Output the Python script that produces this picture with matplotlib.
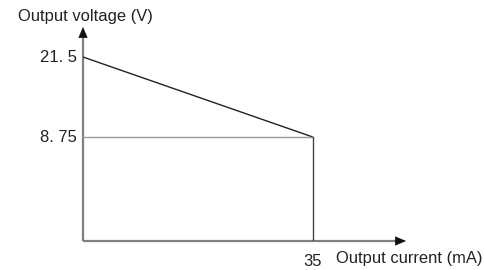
import matplotlib
matplotlib.use("Agg")
import matplotlib.pyplot as plt

# data
current = [0, 35]
voltage = [21.5, 8.75]
ytick_vals = [21.5, 8.75]
ytick_labels = ["21. 5", "8. 75"]
xtick_vals = [35]
xtick_labels = ["35"]

plt.rcParams['font.family'] = ['Liberation Sans', 'DejaVu Sans']

W, H = 484, 270
fig = plt.figure(figsize=(W/100, H/100), dpi=100)
# axes spanning pixel x 83..406, y 27..241
ax = fig.add_axes([83/W, (H-241)/H, (406-83)/W, (241-27)/H])
x0, x1 = 0, 49.2
ppu_y = (137-57)/(21.5-8.75)
ppu_x = (313-83)/35
y_base = 8.75 - (241-137)/ppu_y
y_top = 21.5 + (57-27)/ppu_y
ax.set_xlim(x0, x1)
ax.set_ylim(y_base, y_top)
ax.axis('off')

axc = '#808080'
# axis lines
ax.plot([x0, x1 - 4/ppu_x], [y_base, y_base], color=axc, lw=1.6, solid_capstyle='butt', clip_on=False)
ax.plot([x0, x0], [y_base, y_top - 4/ppu_y], color=axc, lw=1.6, solid_capstyle='butt', clip_on=False)
# arrowheads
ax.annotate('', xy=(x1, y_base), xytext=(x1 - 7/ppu_x, y_base),
            arrowprops=dict(arrowstyle='-|>,head_length=0.7,head_width=0.3', color='#111111', lw=0.5,
                            mutation_scale=10, shrinkA=0, shrinkB=0), annotation_clip=False)
ax.annotate('', xy=(x0, y_top), xytext=(x0, y_top - 7/ppu_y),
            arrowprops=dict(arrowstyle='-|>,head_length=0.7,head_width=0.3', color='#111111', lw=0.5,
                            mutation_scale=10, shrinkA=0, shrinkB=0), annotation_clip=False)

# characteristic
ax.plot(current, voltage, color='#222222', lw=1.0, solid_capstyle='butt')
ax.plot([current[0], current[1]], [voltage[1], voltage[1]], color='#9a9a9a', lw=1.0)
ax.plot([current[1], current[1]], [voltage[1], y_base], color='#444444', lw=1.0)

for v, lab in zip(ytick_vals, ytick_labels):
    ax.text(-0.9, v, lab, ha='right', va='center', fontsize=12, color='#222222')
for v, lab in zip(xtick_vals, xtick_labels):
    ax.text(v, y_base - 21/ppu_y, lab, ha='center', va='center', fontsize=12, color='#222222')

fig.text(18/W, 1 - 16/H, 'Output voltage (V)', ha='left', va='center', fontsize=11.9, color='#222222')
fig.text(336/W, 1 - 258/H, 'Output current (mA)', ha='left', va='center', fontsize=11.9, color='#222222')

fig.savefig('out.png', dpi=100)
